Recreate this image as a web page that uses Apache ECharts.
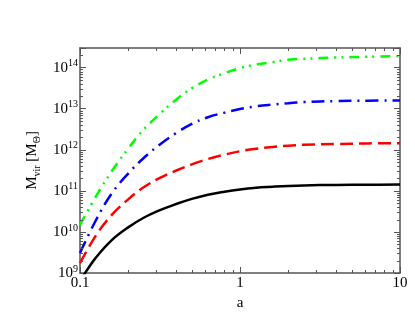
<!DOCTYPE html>
<html>
<head>
<meta charset="utf-8">
<script src="https://cdn.jsdelivr.net/npm/echarts@6/dist/echarts.min.js"></script>
<style>html,body{margin:0;padding:0;background:#fff}#c{width:415px;height:321px}</style>
</head>
<body>
<div id="c"></div>
<script>
// ---- data ----
const aValues = [0.1, 0.126, 0.158, 0.2, 0.25, 0.316, 0.4, 0.5, 0.63, 0.8, 1, 1.26, 1.6, 2, 2.5, 4, 6.3, 10];

const blackA = [0.105, 0.11, 0.126, 0.158, 0.2, 0.25, 0.316, 0.4, 0.5, 0.63, 0.8, 1, 1.26, 1.6, 2, 2.5, 4, 6.3, 10];
const blackM = [8.51e8, 1.14e9, 2.40e9, 6.31e9, 1.29e10, 2.21e10, 3.39e10, 4.79e10, 6.38e10, 8.04e10, 9.55e10, 1.084e11, 1.189e11, 1.259e11, 1.318e11, 1.358e11, 1.396e11, 1.413e11, 1.419e11];

const redM = [1.74e9, 8.3e9, 2.6e10, 6.2e10, 1.22e11, 2.07e11, 3.13e11, 4.4e11, 5.96e11, 7.6e11, 9.2e11, 1.06e12, 1.17e12, 1.26e12, 1.32e12, 1.38e12, 1.43e12, 1.45e12];

const blueM = [3.07e9, 1.95e10, 8.7e10, 2.63e11, 6.3e11, 1.35e12, 2.57e12, 4.27e12, 6.2e12, 8.0e12, 9.8e12, 1.14e13, 1.26e13, 1.36e13, 1.45e13, 1.53e13, 1.57e13, 1.58e13];

const greenM = [1.48e10, 7.4e10, 3.0e11, 1.07e12, 3.1e12, 7.5e12, 1.68e13, 3.13e13, 5.1e13, 7.3e13, 9.7e13, 1.19e14, 1.36e14, 1.55e14, 1.64e14, 1.76e14, 1.84e14, 1.9e14];

const xMin = 0.1, xMax = 10;
const yMin = 1e9, yMax = 3e14;
const xMinorTicks = [0.2,0.3,0.4,0.5,0.6,0.7,0.8,0.9,2,3,4,5,6,7,8,9];
const yMinorTicks = [];
[9,10,11,12,13,14].forEach(e => { for (let k = 2; k <= 9; k++) { const v = k * Math.pow(10, e); if (v < yMax) yMinorTicks.push(v); } });
const xLabels = {0.1: '0.1', 1: '1', 10: '10'};
// -------------------------------------

const pairs = (a, m) => a.map((v, i) => [v, m[i]]);
const font = 'Liberation Serif';
const axisCol = '#555';

const chart = echarts.init(document.getElementById('c'));

const baseX = {type: 'log', logBase: 10, min: xMin, max: xMax, gridIndex: 0,
  splitLine: {show: false}, axisLine: {show: true, lineStyle: {color: axisCol, width: 1.5}},
  axisTick: {show: true, inside: true, length: 6, lineStyle: {color: axisCol, width: 1}}};
const baseY = {type: 'log', logBase: 10, min: yMin, max: yMax, gridIndex: 0,
  splitLine: {show: false}, axisLine: {show: true, lineStyle: {color: axisCol, width: 1.5}},
  axisTick: {show: true, inside: true, length: 6, lineStyle: {color: axisCol, width: 1}}};

const minorData = xMinorTicks.map(a => [a, yMin, 0]).concat(yMinorTicks.map(v => [xMin, v, 1]));

const lineSeries = (a, m, color, type) => ({type: 'line', data: pairs(a, m), smooth: 0.4, showSymbol: false, clip: true,
  lineStyle: {color, width: 2.5, type}});

chart.setOption({
  animation: false,
  backgroundColor: '#fff',
  grid: {left: 80, right: 15, top: 48, bottom: 48, containLabel: false},
  xAxis: [
    Object.assign({}, baseX, {position: 'bottom', name: 'a', nameLocation: 'middle', nameGap: 10,
      nameTextStyle: {fontFamily: font, fontSize: 15, color: '#000'},
      axisLabel: {show: true, margin: 3, fontFamily: font, fontSize: 15, color: '#000',
        formatter: v => { for (const k in xLabels) { if (Math.abs(Math.log10(v) - Math.log10(+k)) < 1e-6) return xLabels[k]; } return ''; }}}),
    Object.assign({}, baseX, {position: 'top', axisLabel: {show: false}})
  ],
  yAxis: [
    Object.assign({}, baseY, {position: 'left', name: '{m|M}{sub|vir}{m| [M}{sub|Θ}{m|]}', nameLocation: 'middle', nameGap: 27, nameRotate: 90,
      nameTextStyle: {fontFamily: font, fontSize: 15, color: '#000',
        rich: {m: {fontFamily: font, fontSize: 15, color: '#000', lineHeight: 20},
               sub: {fontFamily: font, fontSize: 10, color: '#000', verticalAlign: 'bottom', lineHeight: 20}}},
      axisLabel: {show: true, margin: 2, color: '#000',
        formatter: v => { const e = Math.log10(v); if (Math.abs(e - Math.round(e)) > 1e-6) return ''; return '{b|10}{s|' + Math.round(e) + '}'; },
        rich: {b: {fontFamily: font, fontSize: 15, color: '#000', lineHeight: 18},
               s: {fontFamily: font, fontSize: 10, color: '#000', verticalAlign: 'top', lineHeight: 18}}}}),
    Object.assign({}, baseY, {position: 'right', axisLabel: {show: false}})
  ],
  series: [
    {type: 'custom', xAxisIndex: 0, yAxisIndex: 0, silent: true, z: 5, clip: false,
      encode: {x: 0, y: 1},
      data: minorData,
      renderItem: (params, api) => {
        const kind = api.value(2);
        const style = {stroke: axisCol, lineWidth: 1};
        if (kind === 0) {
          const a = api.value(0);
          const p0 = api.coord([a, yMin]);
          const p1 = api.coord([a, yMax]);
          const x = Math.round(p0[0]) + 0.5;
          return {type: 'group', children: [
            {type: 'line', shape: {x1: x, y1: p0[1], x2: x, y2: p0[1] - 3}, style},
            {type: 'line', shape: {x1: x, y1: p1[1], x2: x, y2: p1[1] + 3}, style}
          ]};
        } else {
          const v = api.value(1);
          const p0 = api.coord([xMin, v]);
          const p1 = api.coord([xMax, v]);
          const y = Math.round(p0[1]) + 0.5;
          return {type: 'group', children: [
            {type: 'line', shape: {x1: p0[0], y1: y, x2: p0[0] + 3, y2: y}, style},
            {type: 'line', shape: {x1: p1[0], y1: y, x2: p1[0] - 3, y2: y}, style}
          ]};
        }
      }
    },
    lineSeries(blackA, blackM, '#000000', 'solid'),
    lineSeries(aValues, redM, '#ff0000', [13, 6]),
    lineSeries(aValues, blueM, '#0000ff', [13, 6, 2, 6]),
    lineSeries(aValues, greenM, '#00ff00', [10, 6, 2, 5, 2, 6])
  ]
});
</script>
</body>
</html>
